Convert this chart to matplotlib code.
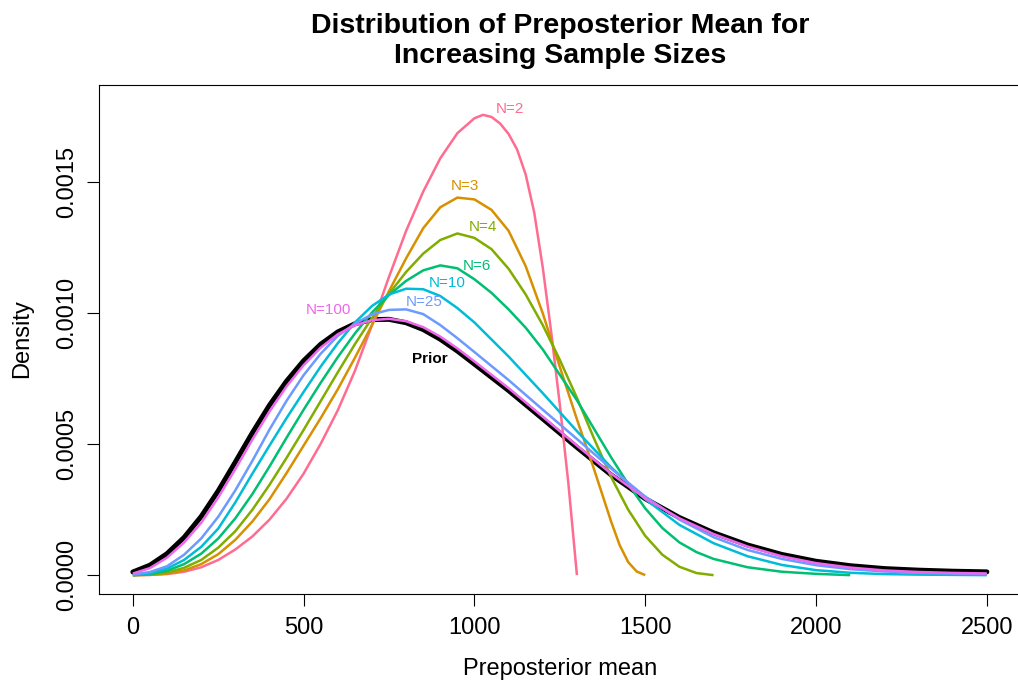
import math
import matplotlib
matplotlib.use("Agg")
import matplotlib.pyplot as plt

plt.rcParams['font.family'] = ['Liberation Sans', 'DejaVu Sans']

# ---------------- data (density values in units of 1e-4) ----------------
SCALE = 1e-4

prior_x = [0, 50, 100, 150, 200, 250, 300, 350, 400, 450, 500, 550, 600, 650, 700, 750,
           800, 850, 900, 950, 1000, 1100, 1200, 1300, 1400, 1500, 1600, 1700, 1800,
           1900, 2000, 2100, 2200, 2300, 2400, 2500]
prior_y = [0.12, 0.38, 0.82, 1.44, 2.24, 3.22, 4.32, 5.44, 6.49, 7.41, 8.19, 8.82, 9.29,
           9.60, 9.76, 9.77, 9.64, 9.38, 9.01, 8.56, 8.06, 7.05, 5.97, 4.88, 3.83, 2.92,
           2.20, 1.62, 1.15, 0.79, 0.53, 0.36, 0.25, 0.19, 0.15, 0.125]

n100_x = prior_x
n100_y = [0.06, 0.27, 0.67, 1.25, 2.0, 2.97, 4.05, 5.18, 6.25, 7.21, 8.02, 8.69, 9.2, 9.54,
          9.74, 9.79, 9.7, 9.47, 9.11, 8.66, 8.16, 7.14, 6.05, 4.95, 3.88, 2.93, 2.17,
          1.57, 1.09, 0.72, 0.46, 0.29, 0.18, 0.12, 0.085, 0.065]

n25_x = prior_x
n25_y = [0.02, 0.12, 0.34, 0.78, 1.4, 2.23, 3.24, 4.37, 5.56, 6.66, 7.64, 8.46, 9.14,
         9.6, 9.96, 10.13, 10.15, 9.97, 9.55, 9.05, 8.52, 7.45, 6.32, 5.2, 4.07, 3.0,
         2.12, 1.45, 0.96, 0.62, 0.38, 0.23, 0.14, 0.09, 0.06, 0.04]

n10_x = prior_x
n10_y = [0.0, 0.07, 0.25, 0.58, 1.08, 1.78, 2.78, 3.88, 4.95, 6.0, 7.0, 7.97, 8.86,
         9.65, 10.28, 10.72, 10.94, 10.92, 10.66, 10.2, 9.65, 8.35, 6.95, 5.5, 4.12, 2.9,
         1.92, 1.22, 0.72, 0.39, 0.19, 0.09, 0.04, 0.02, 0.01, 0.0]

n6_x = [0, 50, 100, 150, 200, 250, 300, 350, 400, 450, 500, 550, 600, 650, 700, 750, 800,
        850, 900, 950, 1000, 1050, 1100, 1150, 1200, 1300, 1400, 1450, 1500, 1550, 1600,
        1650, 1700, 1800, 1900, 2000, 2100]
n6_y = [0.0, 0.04, 0.17, 0.42, 0.82, 1.4, 2.17, 3.1, 4.15, 5.25, 6.32, 7.35, 8.33, 9.23,
        10.03, 10.7, 11.24, 11.64, 11.83, 11.72, 11.3, 10.78, 10.15, 9.45, 8.62, 6.68,
        4.5, 3.48, 2.55, 1.8, 1.25, 0.88, 0.62, 0.3, 0.13, 0.05, 0.0]

n4_x = [0, 50, 100, 150, 200, 250, 300, 350, 400, 450, 500, 550, 600, 650, 700, 750, 800,
        850, 900, 950, 1000, 1050, 1100, 1150, 1200, 1250, 1300, 1350, 1400, 1450, 1500,
        1550, 1600, 1650, 1700]
n4_y = [0.0, 0.02, 0.1, 0.28, 0.58, 1.05, 1.68, 2.5, 3.45, 4.48, 5.55, 6.65, 7.75, 8.82,
        9.82, 10.75, 11.58, 12.28, 12.8, 13.05, 12.88, 12.45, 11.7, 10.72, 9.55, 8.22,
        6.77, 5.22, 3.75, 2.5, 1.5, 0.78, 0.32, 0.08, 0.0]

n3_x = [0, 50, 100, 150, 200, 250, 300, 350, 400, 450, 500, 550, 600, 650, 700, 750, 800,
        850, 900, 950, 1000, 1050, 1100, 1150, 1200, 1250, 1300, 1350, 1400, 1425, 1450,
        1475, 1500]
n3_y = [0.0, 0.01, 0.06, 0.18, 0.42, 0.8, 1.35, 2.05, 2.9, 3.9, 4.95, 6.0, 7.1, 8.3, 9.55,
        10.85, 12.1, 13.25, 14.05, 14.42, 14.35, 13.95, 13.15, 11.8, 10.0, 7.95, 5.95,
        4.05, 2.05, 1.15, 0.5, 0.14, 0.0]

n2_x = [0, 50, 100, 150, 200, 250, 300, 350, 400, 450, 500, 550, 600, 650, 700, 750, 800,
        850, 900, 950, 1000, 1025, 1050, 1075, 1100, 1125, 1150, 1175, 1200, 1225, 1250,
        1275, 1300]
n2_y = [0.0, 0.01, 0.04, 0.13, 0.3, 0.58, 0.98, 1.48, 2.12, 2.92, 3.88, 5.02, 6.3, 7.8,
        9.55, 11.4, 13.15, 14.65, 15.92, 16.88, 17.45, 17.58, 17.5, 17.25, 16.85, 16.25,
        15.3, 13.85, 11.75, 9.25, 6.5, 3.5, 0.0]

series_names = ["N=2", "N=3", "N=4", "N=6", "N=10", "N=25", "N=100"]
series_x = [n2_x, n3_x, n4_x, n6_x, n10_x, n25_x, n100_x]
series_y = [n2_y, n3_y, n4_y, n6_y, n10_y, n25_y, n100_y]

# label anchor positions (data coords, density in 1e-4 units)
label_x = [1104, 972, 1025, 1007, 919, 852, 574]
label_y = [17.8, 14.85, 13.28, 11.79, 11.14, 10.45, 10.14]
prior_label = ("Prior", 869, 8.27)

x_ticks = [0, 500, 1000, 1500, 2000, 2500]
y_ticks = [0.0, 0.0005, 0.0010, 0.0015]
y_tick_labels = ["0.0000", "0.0005", "0.0010", "0.0015"]


# ---------------- colours: R hcl(h, c=100, l=65) ----------------
def hcl_hex(h, c=100.0, l=65.0):
    WX, WY, WZ = 95.047, 100.0, 108.883
    un = 4 * WX / (WX + 15 * WY + 3 * WZ)
    vn = 9 * WY / (WX + 15 * WY + 3 * WZ)
    hr = math.radians(h)
    U, V = c * math.cos(hr), c * math.sin(hr)
    Y = WY * (((l + 16) / 116) ** 3 if l > 7.999592 else l / 903.3)
    u = U / (13 * l) + un
    v = V / (13 * l) + vn
    X = 9.0 * Y * u / (4 * v)
    Z = -X / 3 - 5 * Y + 3 * Y / v

    def g(t):
        t = t / WY
        t = 1.055 * t ** (1 / 2.4) - 0.055 if t > 0.00304 else 12.92 * t
        return min(1.0, max(0.0, t))
    r = g(3.240479 * X - 1.537150 * Y - 0.498535 * Z)
    gg = g(-0.969256 * X + 1.875992 * Y + 0.041556 * Z)
    b = g(0.055648 * X - 0.204043 * Y + 1.057311 * Z)
    return (r, gg, b)


colors = [hcl_hex(360.0 * i / 7) for i in range(7)]

# ---------------- figure ----------------
W, H = 1018, 681
fig = plt.figure(figsize=(W / 100, H / 100), dpi=100)
L, R, T, B = 98.7, 1021.0, 85.0, 594.0
ax = fig.add_axes([L / W, (H - B) / H, (R - L) / W, (B - T) / H])
ax.set_xlim(-100, 2600)
ax.set_ylim(-0.000072, 0.001872)

ax.plot(prior_x, [v * SCALE for v in prior_y], color="black", lw=3.6,
        solid_capstyle="round", solid_joinstyle="round", zorder=2)
for xs, ys, col in zip(series_x, series_y, colors):
    ax.plot(xs, [v * SCALE for v in ys], color=col, lw=1.8,
            solid_capstyle="butt", solid_joinstyle="round", zorder=3)

for name, lx, ly, col in zip(series_names, label_x, label_y, colors):
    ax.text(lx, ly * SCALE, name, color=col, fontsize=11, ha="center", va="center")
ax.text(prior_label[1], prior_label[2] * SCALE, prior_label[0], color="black",
        fontsize=11, fontweight="bold", ha="center", va="center")

for s in ax.spines.values():
    s.set_linewidth(0.8)
    s.set_color("black")

ax.set_xticks(x_ticks)
ax.set_xticklabels([str(v) for v in x_ticks])
ax.set_yticks(y_ticks)
ax.set_yticklabels(y_tick_labels, rotation=90, va="center")
ax.tick_params(axis="both", direction="out", length=8.3, width=0.8,
               labelsize=17, color="black")
ax.tick_params(axis="x", pad=8.2)
ax.tick_params(axis="y", pad=6.4)

cx = (L + R) / 2 / W
fig.text(cx, 1 - 33.3 / H, "Distribution of Preposterior Mean for", ha="center",
         va="baseline", fontsize=20.5, fontweight="bold")
fig.text(cx, 1 - 63.3 / H, "Increasing Sample Sizes", ha="center",
         va="baseline", fontsize=20.5, fontweight="bold")
fig.text(cx, 1 - 675.0 / H, "Preposterior mean", ha="center", va="baseline",
         fontsize=17)
fig.text(28.3 / W, 1 - 338.5 / H, "Density", ha="center", va="baseline",
         rotation=90, rotation_mode="anchor", fontsize=17)

fig.savefig("out.png", dpi=100)
